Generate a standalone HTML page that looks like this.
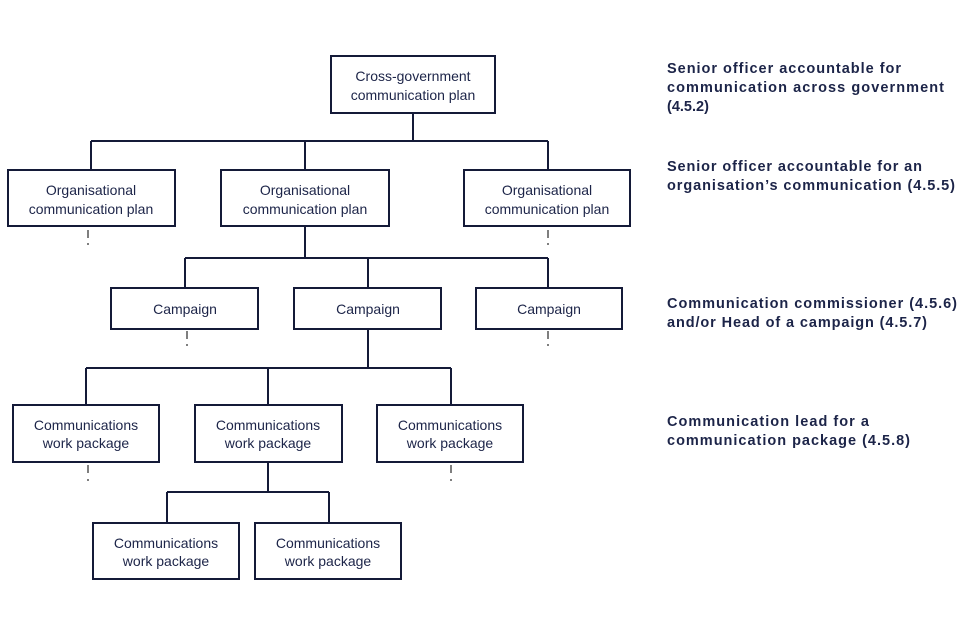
<!DOCTYPE html>
<html><head><meta charset="utf-8"><style>
html,body{margin:0;padding:0;background:#fff;}
svg{display:block;}
text{font-family:"Liberation Sans",Arial,sans-serif;fill:#1c2448;}
.b{font-size:14px;text-anchor:middle;}
.r{font-size:14.5px;font-weight:bold;}
</style></head><body>
<svg width="960" height="640" viewBox="0 0 960 640" xmlns="http://www.w3.org/2000/svg">
<g fill="#fff" stroke="#141a38" stroke-width="2">
<rect x="331" y="56" width="164" height="57"/>
<rect x="8" y="170" width="167" height="56"/>
<rect x="221" y="170" width="168" height="56"/>
<rect x="464" y="170" width="166" height="56"/>
<rect x="111" y="288" width="147" height="41"/>
<rect x="294" y="288" width="147" height="41"/>
<rect x="476" y="288" width="146" height="41"/>
<rect x="13" y="405" width="146" height="57"/>
<rect x="195" y="405" width="147" height="57"/>
<rect x="377" y="405" width="146" height="57"/>
<rect x="93" y="523" width="146" height="56"/>
<rect x="255" y="523" width="146" height="56"/>
</g>
<g fill="none" stroke="#141a38" stroke-width="2">
<path d="M413 113V141M91 141H548M91 141V170M305 141V170M548 141V170"/>
<path d="M305 226V258M185 258H548M185 258V288M368 258V288M548 258V288"/>
<path d="M368 329V368M86 368H451M86 368V405M268 368V405M451 368V405"/>
<path d="M268 462V492M167 492H329M167 492V523M329 492V523"/>
</g>
<g stroke="#555" stroke-width="1.5">
<path d="M88 230V238M88 243V245M548 230V238M548 243V245"/>
<path d="M187 331V339M187 344V346M548 331V339M548 344V346"/>
<path d="M88 465V473M88 479V481M451 465V473M451 479V481"/>
</g>
<text class="b" x="413" y="81">Cross-government</text>
<text class="b" x="413" y="100">communication plan</text>
<text class="b" x="91" y="195">Organisational</text>
<text class="b" x="91" y="214">communication plan</text>
<text class="b" x="305" y="195">Organisational</text>
<text class="b" x="305" y="214">communication plan</text>
<text class="b" x="547" y="195">Organisational</text>
<text class="b" x="547" y="214">communication plan</text>
<text class="b" x="185" y="314">Campaign</text>
<text class="b" x="368" y="314">Campaign</text>
<text class="b" x="549" y="314">Campaign</text>
<text class="b" x="86" y="430">Communications</text>
<text class="b" x="86" y="448">work package</text>
<text class="b" x="268" y="430">Communications</text>
<text class="b" x="268" y="448">work package</text>
<text class="b" x="450" y="430">Communications</text>
<text class="b" x="450" y="448">work package</text>
<text class="b" x="166" y="548">Communications</text>
<text class="b" x="166" y="566">work package</text>
<text class="b" x="328" y="548">Communications</text>
<text class="b" x="328" y="566">work package</text>
<text class="r" x="667" y="73" textLength="234">Senior officer accountable for</text>
<text class="r" x="667" y="92" textLength="277">communication across government</text>
<text class="r" x="667" y="111">(4.5.2)</text>
<text class="r" x="667" y="171" textLength="255">Senior officer accountable for an</text>
<text class="r" x="667" y="190" textLength="288">organisation’s communication (4.5.5)</text>
<text class="r" x="667" y="308" textLength="290">Communication commissioner (4.5.6)</text>
<text class="r" x="667" y="327" textLength="260">and/or Head of a campaign (4.5.7)</text>
<text class="r" x="667" y="426" textLength="202">Communication lead for a</text>
<text class="r" x="667" y="445" textLength="243">communication package (4.5.8)</text>
</svg>
</body></html>
